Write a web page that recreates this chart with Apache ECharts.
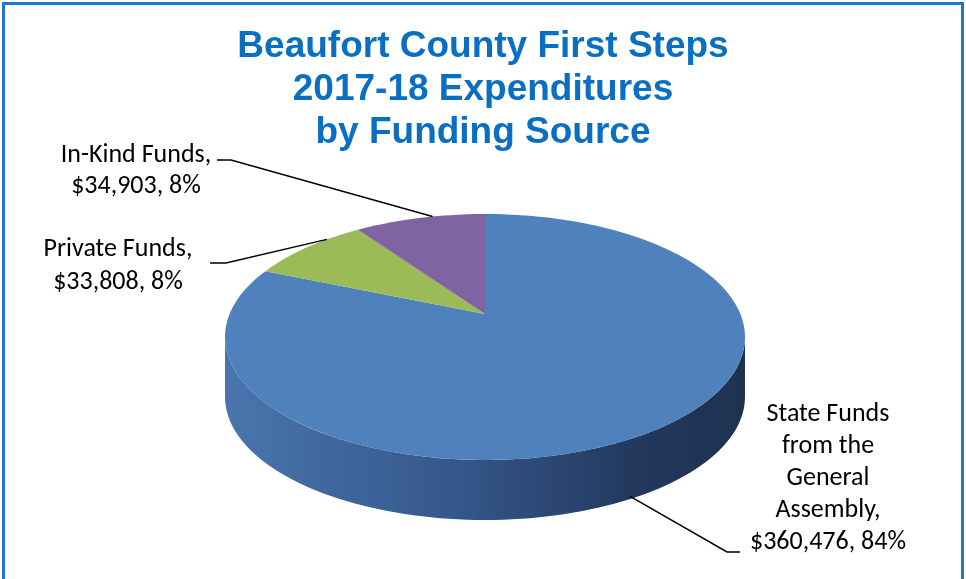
<!DOCTYPE html>
<html><head><meta charset="utf-8">
<script src="https://cdn.jsdelivr.net/npm/echarts@6/dist/echarts.min.js"></script>
<style>html,body{margin:0;padding:0;background:#fff}#c{width:966px;height:579px}</style>
</head><body><div id="c"></div>
<script>
// ---- data ----
const categories = ['State Funds from the General Assembly', 'Private Funds', 'In-Kind Funds'];
const labelNames = [['State Funds', 'from the', 'General', 'Assembly,'], ['Private Funds,'], ['In-Kind Funds,']];
const values = [360476, 33808, 34903];
const colors = ['#4f81bd', '#9bbb59', '#8064a2'];
const titleLines = ['Beaufort County First Steps', '2017-18 Expenditures', 'by Funding Source'];

// ---- layout (not data) ----
const G = { cx: 485, cy: 337, rx: 260, ry: 123, depth: 60, apexDy: -23 };
const labelLayout = [
  { x: 828, y: 398, lh: 32, elbow: [[740, 552], [727, 552]], side: true, shift: -5, dy: -3 },
  { x: 118, y: 233, lh: 33, elbow: [[210, 263], [226, 263]], shift: 6, dy: 0 },
  { x: 136, y: 140, lh: 31, elbow: [[217, 160], [231, 160]], shift: 3, dy: 0 }
];

const total = values.reduce((a, b) => a + b, 0);
const rad = d => d * Math.PI / 180;
function rim(deg, dy) {
  return [G.cx + G.rx * Math.sin(rad(deg)), G.cy - G.ry * Math.cos(rad(deg)) + (dy || 0)];
}
function arc(a0, a1, dy) {
  const pts = [];
  const n = Math.max(2, Math.ceil(Math.abs(a1 - a0) / 2));
  for (let k = 0; k <= n; k++) pts.push(rim(a0 + (a1 - a0) * k / n, dy));
  return pts;
}

function renderItem(params, api) {
  const i = params.dataIndex;
  const v = api.value(0);
  let before = 0;
  for (let k = 0; k < i; k++) before += values[k];
  const a0 = before / total * 360;
  const a1 = (before + v) / total * 360;
  const children = [];
  // side wall (front half only)
  const s0 = Math.max(a0, 90), s1 = Math.min(a1, 270);
  if (s1 > s0) {
    const top = arc(s0, s1, 0);
    const bot = arc(s1, s0, G.depth);
    children.push({
      type: 'polygon',
      shape: { points: top.concat(bot) },
      style: {
        fill: new echarts.graphic.LinearGradient(0, 0, 1, 0, [
          { offset: 0, color: '#4a75ad' },
          { offset: 0.45, color: '#34578a' },
          { offset: 0.8, color: '#22385c' },
          { offset: 1, color: '#1e3250' }
        ])
      }
    });
  }
  // top face
  const apex = [G.cx, G.cy + G.apexDy];
  children.push({
    type: 'polygon',
    shape: { points: [apex].concat(arc(a0, a1, 0)) },
    style: { fill: colors[i] }
  });
  // leader line + label
  const L = labelLayout[i];
  const mid = (a0 + a1) / 2 + L.shift;
  const anchor = rim(mid, (L.side ? G.depth : 0) + L.dy);
  children.push({
    type: 'polyline',
    shape: { points: [anchor, L.elbow[1], L.elbow[0]] },
    style: { stroke: '#000', lineWidth: 1.5, fill: null }
  });
  const pct = Math.round(v / total * 100) + '%';
  const txt = labelNames[i].concat(['$' + v.toLocaleString('en-US') + ', ' + pct]).join('\n');
  children.push({
    type: 'text',
    x: L.x, y: L.y,
    style: {
      text: txt, fill: '#000', align: 'center', verticalAlign: 'top',
      font: '26px Carlito, Lato, "Open Sans", sans-serif', lineHeight: L.lh
    }
  });
  return { type: 'group', children: children };
}

const chart = echarts.init(document.getElementById('c'), null, { renderer: 'canvas' });
chart.setOption({
  animation: false,
  backgroundColor: '#fff',
  title: {
    text: titleLines.join('\n'),
    left: 'center', top: 20,
    textStyle: { fontSize: 37, fontWeight: 'bold', color: '#0a6fc2', lineHeight: 43, fontFamily: '"Liberation Sans", Arial, sans-serif' }
  },
  graphic: [{
    type: 'polyline', silent: true,
    shape: { points: [[3.5, 590], [3.5, 3.5], [962.5, 3.5], [962.5, 590]] },
    style: { stroke: '#1f77c9', lineWidth: 3, fill: null }
  }],
  series: [{
    type: 'custom',
    coordinateSystem: 'none',
    renderItem: renderItem,
    data: values.map((v, i) => ({ name: categories[i], value: [v] }))
  }]
});
</script></body></html>
